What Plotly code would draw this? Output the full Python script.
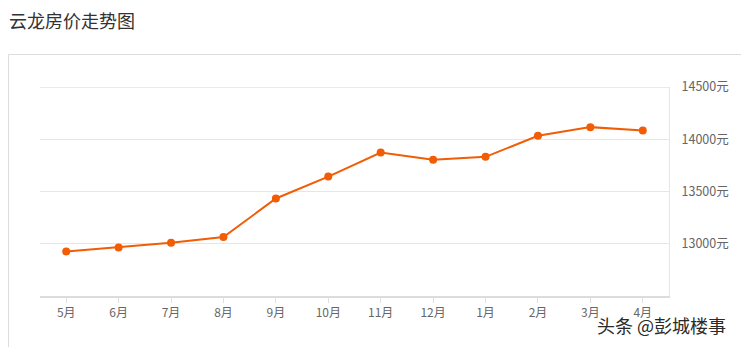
import plotly.graph_objects as go

months = ["5月", "6月", "7月", "8月", "9月", "10月", "11月", "12月", "1月", "2月", "3月", "4月"]
prices = [12926, 12965, 13010, 13064, 13433, 13643, 13873, 13803, 13832, 14033, 14116, 14083]
y_ticks = [13000, 13500, 14000, 14500]
y_tick_labels = ["13000元", "13500元", "14000元", "14500元"]
y_range = [12500, 14500]

LINE = "#f25c05"
FONT = "Noto Sans CJK SC, Noto Sans, sans-serif"

fig = go.Figure()
fig.add_trace(go.Scatter(
    x=months, y=prices, mode="lines+markers",
    line=dict(color=LINE, width=2),
    marker=dict(color=LINE, size=8),
    hoverinfo="x+y",
))

W, H = 741, 347
L, R, T, B = 40, 72, 87, 51
pw, ph = W - L - R, H - T - B

def px_x(p):
    return (p - L) / pw

def px_y(p):
    return (H - B - p) / ph

fig.update_layout(
    width=W, height=H,
    margin=dict(l=L, r=R, t=T, b=B),
    paper_bgcolor="white", plot_bgcolor="white",
    showlegend=False,
    font=dict(family=FONT, size=12, color="#666"),
    title=dict(text="云龙房价走势图", x=9 / W, xanchor="left", xref="container",
               y=1 - 22 / H, yanchor="middle", yref="container",
               font=dict(size=18, color="#333", family=FONT)),
    xaxis=dict(
        type="category", range=[-0.5, len(months) - 0.5],
        showgrid=False, showline=True, linecolor="#dcdcdc", linewidth=2,
        ticks="outside", ticklen=5, tickcolor="#e0e0e0", tickwidth=1,
        tickfont=dict(size=12, color="#666"), zeroline=False,
        fixedrange=True,
    ),
    yaxis=dict(
        side="right", range=y_range,
        tickvals=y_ticks, ticktext=y_tick_labels,
        showgrid=True, gridcolor="#e6e6e6", gridwidth=1,
        showline=True, linecolor="#e6e6e6", linewidth=1, mirror=False,
        ticks="", ticklabelstandoff=9,
        tickfont=dict(size=12.5, color="#666"), zeroline=False,
        fixedrange=True,
    ),
    shapes=[
        dict(type="rect", xref="paper", yref="paper",
             x0=px_x(8.5), x1=px_x(760), y0=px_y(380), y1=px_y(54.5),
             line=dict(color="#dddddd", width=1), fillcolor="rgba(0,0,0,0)",
             layer="below"),
        dict(type="line", xref="paper", yref="y",
             x0=0, x1=1, y0=y_range[1], y1=y_range[1],
             line=dict(color="#e3e3e3", width=1.5), layer="between"),
    ],
    annotations=[
        dict(text="头条 @彭城楼事", xref="paper", yref="paper",
             x=px_x(728), y=px_y(325), xanchor="right", yanchor="middle",
             showarrow=False,
             font=dict(size=18, color="#2a2a2a", family=FONT,
                       shadow="1px 1px 1px white")),
    ],
)

fig.write_html("out.html")
